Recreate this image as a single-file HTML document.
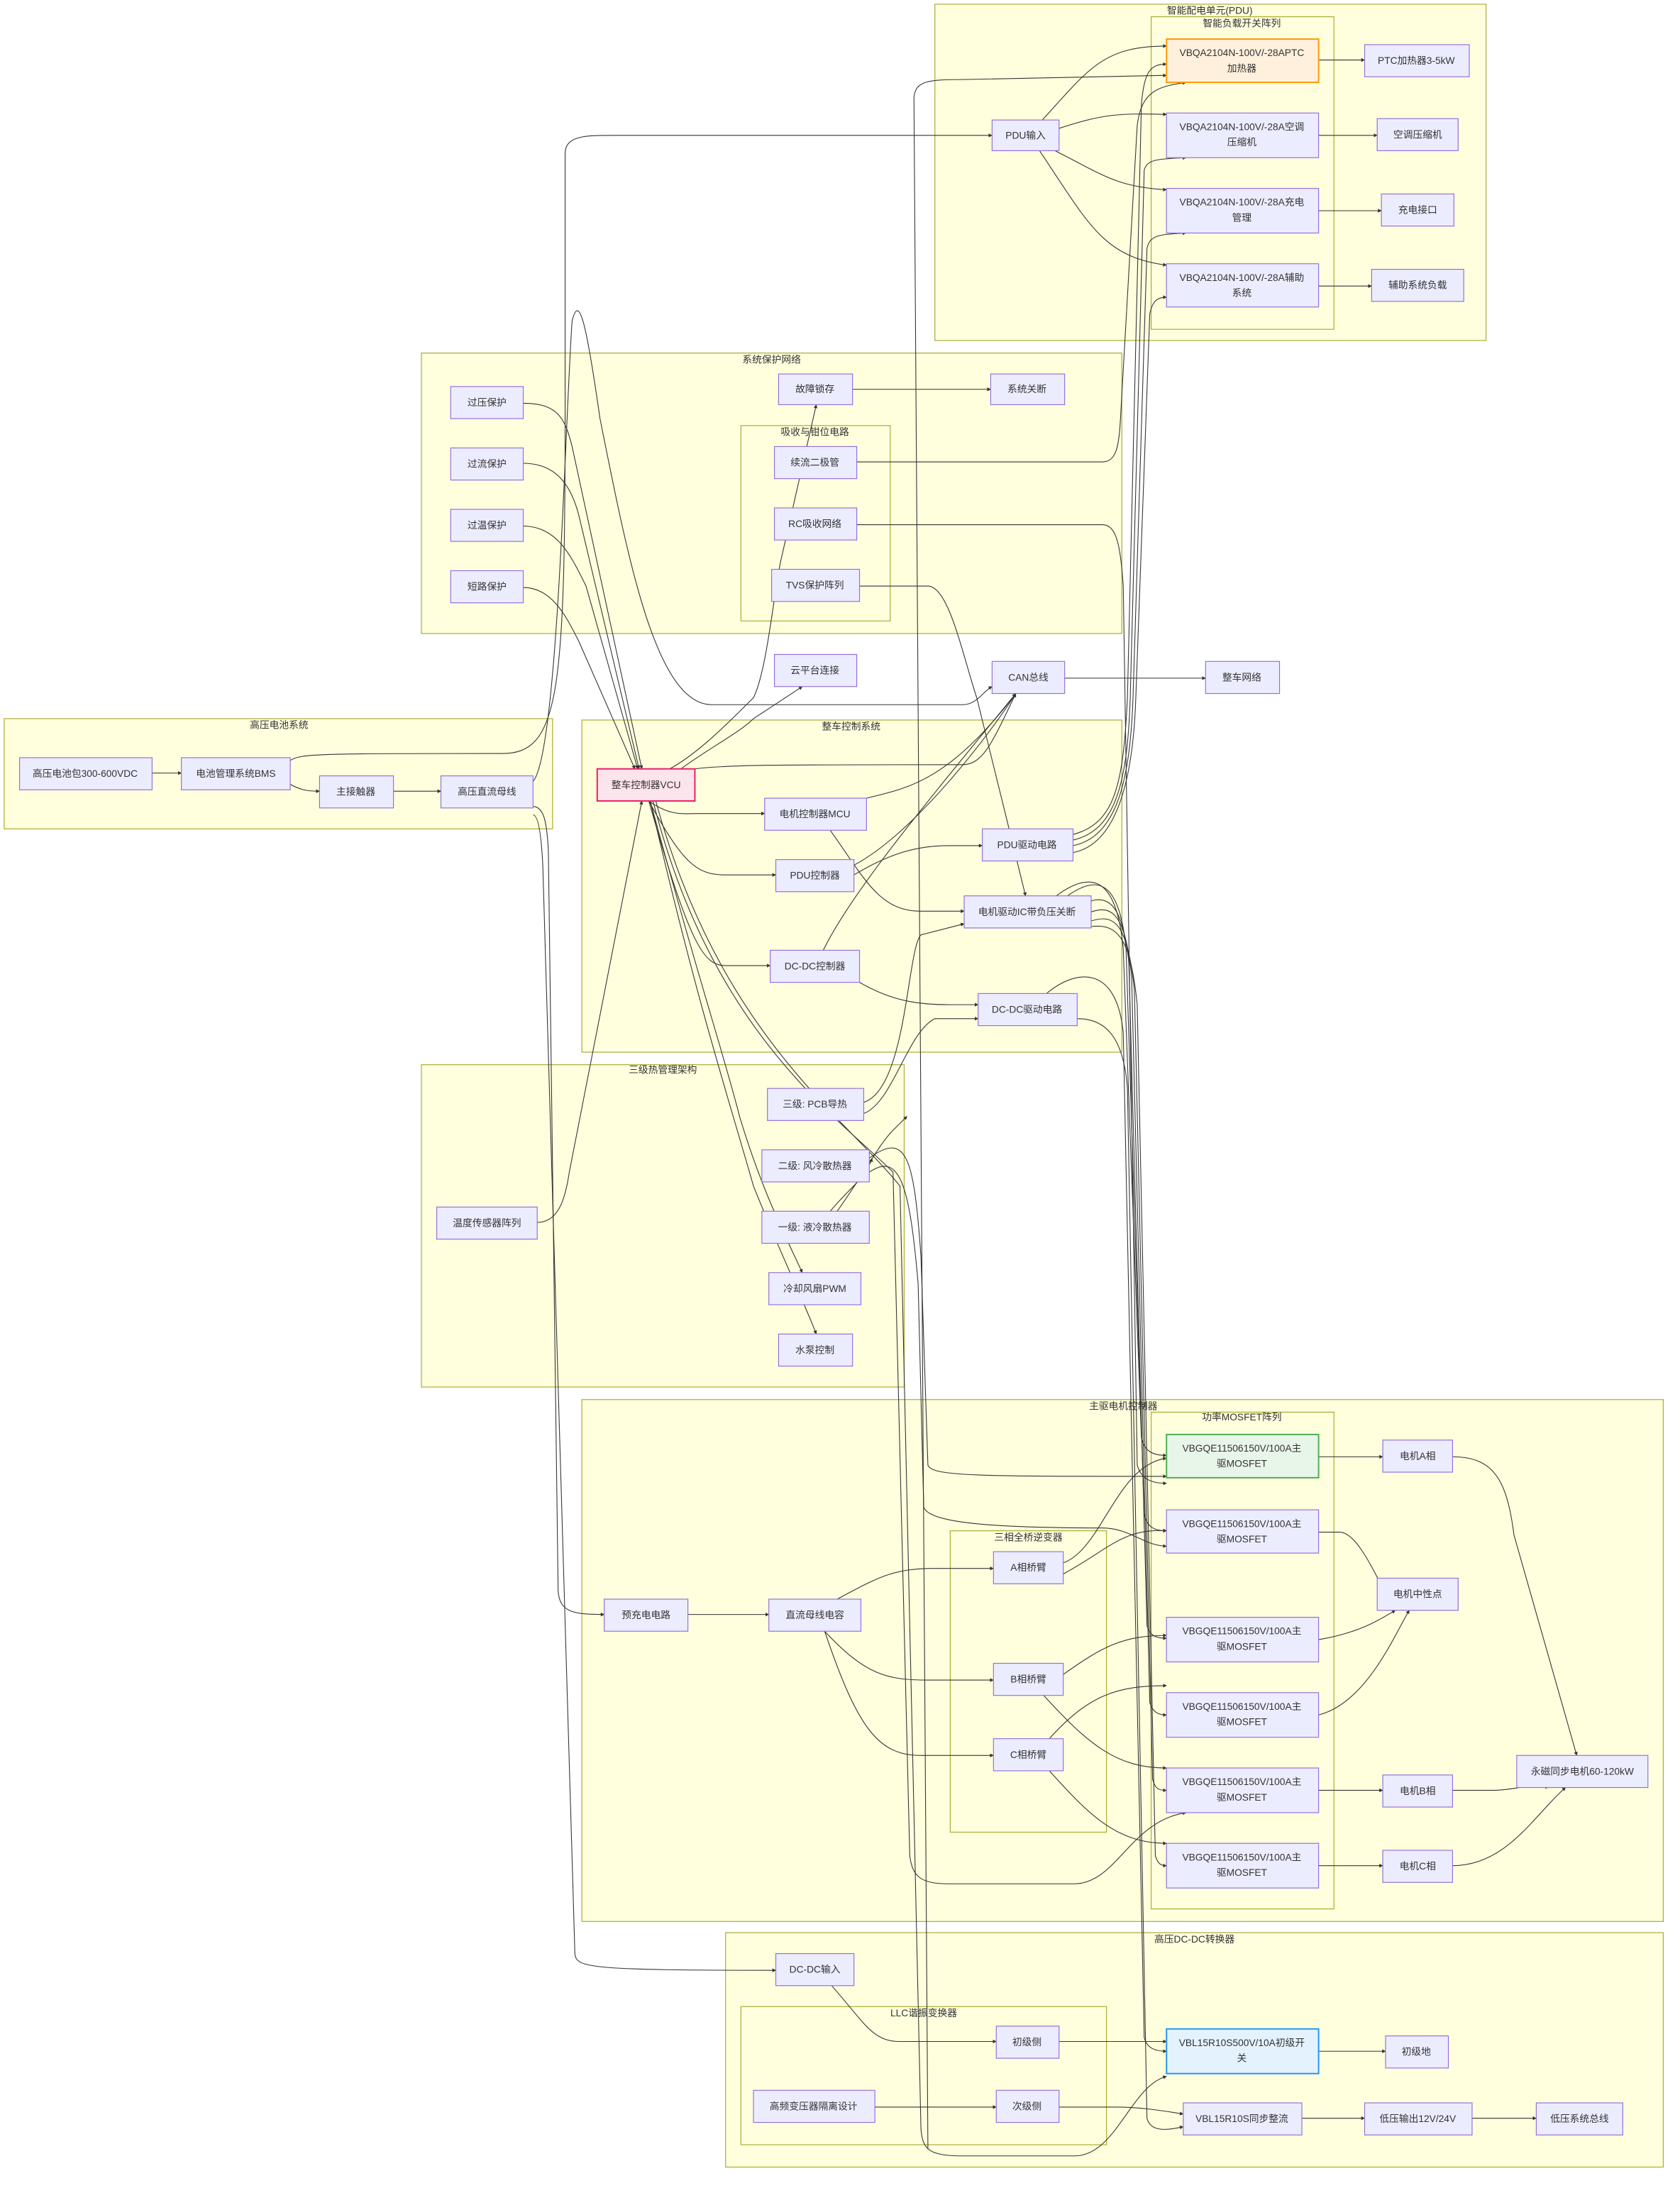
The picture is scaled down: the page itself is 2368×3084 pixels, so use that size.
<!DOCTYPE html>
<html><head><meta charset="utf-8">
<style>
html,body{margin:0;padding:0;background:#fff;}
svg{display:block;}
text{font-family:"Liberation Sans","Noto Sans CJK SC",sans-serif;fill:#333;}
.g{fill:#ffffde;stroke:#aaaa33;stroke-width:0.6;}
.n{fill:#ececff;stroke:#9370db;stroke-width:0.6;}
.e{fill:none;stroke:#333;stroke-width:0.55;marker-end:url(#a);}
.t{font-size:7px;text-anchor:middle;dominant-baseline:central;}
.gt{font-size:7px;text-anchor:middle;}
</style></head><body>
<svg width="2368" height="3084" viewBox="0 0 1204 1568" preserveAspectRatio="none" xmlns="http://www.w3.org/2000/svg">
<defs><marker id="a" viewBox="0 0 10 10" refX="9" refY="5" markerWidth="5" markerHeight="5" orient="auto"><path d="M0 0 L10 5 L0 10 z" fill="#333"/></marker></defs>
<rect width="1204" height="1568" fill="#fff"/>
<!-- groups -->
<rect class="g" x="670" y="3" width="395" height="241"/><text class="gt" x="867" y="10">智能配电单元(PDU)</text>
<rect class="g" x="825" y="12" width="131" height="224"/><text class="gt" x="890" y="19">智能负载开关阵列</text>
<rect class="g" x="302" y="253" width="502" height="201"/><text class="gt" x="553" y="260">系统保护网络</text>
<rect class="g" x="531" y="305" width="107" height="140"/><text class="gt" x="584" y="312">吸收与钳位电路</text>
<rect class="g" x="3" y="515" width="393" height="79"/><text class="gt" x="200" y="522">高压电池系统</text>
<rect class="g" x="417" y="516" width="387" height="238"/><text class="gt" x="610" y="523">整车控制系统</text>
<rect class="g" x="302" y="763" width="346" height="231"/><text class="gt" x="475" y="769">三级热管理架构</text>
<rect class="g" x="417" y="1003" width="775" height="374"/><text class="gt" x="805" y="1010">主驱电机控制器</text>
<rect class="g" x="825" y="1012" width="131" height="356"/><text class="gt" x="890" y="1018">功率MOSFET阵列</text>
<rect class="g" x="681" y="1097" width="112" height="216"/><text class="gt" x="737" y="1104">三相全桥逆变器</text>
<rect class="g" x="520" y="1385" width="672" height="168"/><text class="gt" x="856" y="1392">高压DC-DC转换器</text>
<rect class="g" x="531" y="1438" width="262" height="99"/><text class="gt" x="662" y="1445">LLC谐振变换器</text>

<!-- edges -->
<g>
<path class="e" d="M747 86 C780 50,790 33,836 33"/>
<path class="e" d="M759 92 C790 82,800 81,836 82"/>
<path class="e" d="M756 108 C790 125,800 134,836 136"/>
<path class="e" d="M745 108 C780 160,790 184,836 190"/>
<path class="e" d="M945 43 L978 43"/><path class="e" d="M945 97 L987 97"/><path class="e" d="M945 151 L990 151"/><path class="e" d="M945 205 L983 205"/>
<path class="e" d="M665 1540 L655 70 C656 58,665 57,690 57 L836 54"/>
<path class="e" d="M375 289 C400 289,405 300,410 320 L460 551"/>
<path class="e" d="M375 332 C400 332,410 350,415 370 L458 551"/>
<path class="e" d="M375 377 C400 377,410 400,420 420 L457 551"/>
<path class="e" d="M375 421 C395 421,405 440,415 460 L455 551"/>
<path class="e" d="M382 560 C400 540,405 300,410 230 C415 210,420 230,430 300 C450 400,470 505,510 505 L690 505 C700 505,705 495,711 492"/>
<path class="e" d="M208 545 C215 540,230 540,360 540 C400 540,405 500,405 300 L405 110 C405 97,420 97,440 97 L711 97"/>
<path class="e" d="M611 279 L710 279"/>
<path class="e" d="M480 551 C500 540,520 520,540 500 C550 480,555 420,560 400 L585 290"/>
<path class="e" d="M614 331 L790 331 C800 331,802 320,803 300 L815 90 C818 65,830 62,850 59"/>
<path class="e" d="M614 376 L790 376 C800 376,803 390,805 420 L815 1050 C818 1060,825 1063,836 1063"/>
<path class="e" d="M616 420 L665 420 C680 420,690 470,700 500 L735 642"/>
<path class="e" d="M769 598 C800 590,805 560,808 500 L818 75 C820 50,825 46,836 46"/>
<path class="e" d="M769 602 C800 595,808 560,810 500 L820 122 C822 114,830 114,850 113"/>
<path class="e" d="M769 606 C800 600,810 560,812 500 L822 178 C824 168,832 168,850 167"/>
<path class="e" d="M769 611 C800 605,812 560,814 500 L824 225 C826 215,830 213,836 213"/>
<path class="e" d="M488 551 C510 535,530 525,540 515 L575 492"/>
<path class="e" d="M498 551 C520 548,560 548,690 548 C705 548,712 530,728 497"/>
<path class="e" d="M465 574 C480 585,490 583,500 583 L548 583"/>
<path class="e" d="M465 574 C490 620,500 627,520 627 L556 627"/>
<path class="e" d="M465 574 C495 680,505 692,520 692 L552 692"/>
<path class="e" d="M466 574 C500 700,520 760,530 800 C545 850,560 880,575 912"/>
<path class="e" d="M466 574 C500 720,520 780,540 850 C560 900,575 930,585 956"/>
<path class="e" d="M468 574 C510 740,600 800,640 840 L652 1330 C654 1345,660 1350,680 1350 L770 1350 C800 1350,810 1305,850 1299"/>
<path class="e" d="M470 574 C515 740,605 800,645 850 L660 1525 C661 1540,665 1545,690 1545 L770 1545 C800 1545,810 1495,836 1488"/>
<path class="e" d="M385 876 C400 876,405 860,408 840 L460 574"/>
<path class="e" d="M621 572 C650 565,680 560,728 497"/>
<path class="e" d="M612 620 C650 600,700 540,728 497"/>
<path class="e" d="M590 681 C610 640,660 580,728 497"/>
<path class="e" d="M595 595 C620 630,630 653,660 653 L691 653"/>
<path class="e" d="M612 627 C640 610,660 606,680 606 L704 606"/>
<path class="e" d="M616 704 C640 718,660 720,680 720 L701 720"/>
<path class="e" d="M619 790 C650 780,650 680,660 670 L691 662"/>
<path class="e" d="M619 798 C640 790,650 740,670 730 L701 730"/>
<path class="e" d="M757 642 C780 625,800 625,805 680 L818 1030 C820 1040,826 1043,836 1043"/>
<path class="e" d="M765 642 C785 628,802 628,807 680 L820 1085 C822 1095,828 1097,836 1097"/>
<path class="e" d="M772 650 C790 640,804 640,809 690 L822 1165 C824 1172,828 1174,836 1174"/>
<path class="e" d="M778 655 C795 648,806 650,811 700 L824 1220 C826 1227,830 1229,836 1229"/>
<path class="e" d="M782 660 C798 655,808 660,813 710 L826 1275 C828 1282,830 1283,836 1283"/>
<path class="e" d="M782 664 C800 662,810 670,815 720 L828 1330 C830 1336,832 1337,836 1337"/>
<path class="e" d="M750 712 C770 695,800 690,805 740 L820 1460 C822 1468,828 1470,836 1470"/>
<path class="e" d="M772 730 C790 730,805 740,808 780 L822 1518 C824 1526,832 1528,848 1524"/>
<path class="e" d="M623 830 C650 810,655 830,660 900 L665 1050 C668 1058,700 1058,836 1058"/>
<path class="e" d="M623 840 C645 825,652 850,658 920 L662 1080 C665 1090,700 1095,790 1095 C810 1095,820 1108,836 1108"/>
<path class="e" d="M595 868 C610 850,620 845,625 830"/>
<path class="e" d="M600 868 C620 840,630 820,640 810 L650 800"/>
<path class="e" d="M382 578 C390 578,392 590,393 610 L400 1140 C401 1155,410 1157,433 1157"/>
<path class="e" d="M382 584 C386 584,388 600,389 620 L412 1400 C413 1410,420 1412,556 1412"/>
<path class="e" d="M493 1157 L551 1157"/>
<path class="e" d="M600 1146 C630 1130,640 1124,670 1124 L712 1124"/>
<path class="e" d="M591 1169 C620 1200,635 1204,665 1204 L712 1204"/>
<path class="e" d="M591 1169 C615 1240,630 1258,660 1258 L712 1258"/>
<path class="e" d="M762 1120 C790 1110,800 1050,836 1045"/>
<path class="e" d="M762 1128 C795 1110,805 1095,836 1097"/>
<path class="e" d="M762 1200 C790 1180,805 1172,836 1172"/>
<path class="e" d="M748 1215 C780 1250,800 1267,836 1267"/>
<path class="e" d="M752 1246 C780 1215,800 1208,836 1208"/>
<path class="e" d="M752 1269 C780 1300,800 1321,836 1321"/>
<path class="e" d="M945 1044 L991 1044"/>
<path class="e" d="M945 1098 L960 1098 C975 1098,990 1140,1000 1154"/>
<path class="e" d="M945 1175 C975 1170,990 1160,1000 1154"/>
<path class="e" d="M945 1229 C980 1220,1000 1170,1010 1154"/>
<path class="e" d="M945 1283 L991 1283"/><path class="e" d="M945 1337 L991 1337"/>
<path class="e" d="M1041 1044 C1070 1044,1080 1060,1085 1100 L1130 1258"/>
<path class="e" d="M1041 1283 L1070 1283 C1085 1283,1095 1278,1110 1281"/>
<path class="e" d="M1041 1337 C1080 1337,1100 1300,1122 1281"/>
<path class="e" d="M596 1423 C620 1450,625 1463,645 1463 L714 1463"/>
<path class="e" d="M759 1463 L836 1463"/>
<path class="e" d="M627 1510 L714 1510"/>
<path class="e" d="M759 1510 L800 1510 C815 1510,830 1512,848 1515"/>
<path class="e" d="M945 1470 L993 1470"/>
<path class="e" d="M933 1518 L978 1518"/><path class="e" d="M1055 1518 L1101 1518"/>
<path class="e" d="M109 554 L130 554"/>
<path class="e" d="M208 562 C215 566,220 567,229 567"/>
<path class="e" d="M282 567 L316 567"/>
<path class="e" d="M763 486 L864 486"/>
</g>

<!-- nodes -->
<g>
<rect x="836" y="28" width="109" height="31" fill="#fff0dd" stroke="#ff9900" stroke-width="1"/><text class="t" x="890" y="38">VBQA2104N-100V/-28APTC</text><text class="t" x="890" y="49">加热器</text>
<rect class="n" x="836" y="81" width="109" height="32"/><text class="t" x="890" y="91">VBQA2104N-100V/-28A空调</text><text class="t" x="890" y="102">压缩机</text>
<rect class="n" x="836" y="135" width="109" height="32"/><text class="t" x="890" y="145">VBQA2104N-100V/-28A充电</text><text class="t" x="890" y="156">管理</text>
<rect class="n" x="836" y="189" width="109" height="31"/><text class="t" x="890" y="199">VBQA2104N-100V/-28A辅助</text><text class="t" x="890" y="210">系统</text>
<rect class="n" x="978" y="32" width="75" height="23"/><text class="t" x="1015" y="43.5">PTC加热器3-5kW</text>
<rect class="n" x="987" y="85" width="58" height="23"/><text class="t" x="1016" y="96.5">空调压缩机</text>
<rect class="n" x="990" y="139" width="52" height="23"/><text class="t" x="1016" y="150.5">充电接口</text>
<rect class="n" x="983" y="193" width="66" height="23"/><text class="t" x="1016" y="204.5">辅助系统负载</text>
<rect class="n" x="711" y="86" width="48" height="22"/><text class="t" x="735" y="97">PDU输入</text>

<rect class="n" x="323" y="277" width="52" height="23"/><text class="t" x="349" y="288.5">过压保护</text>
<rect class="n" x="323" y="321" width="52" height="23"/><text class="t" x="349" y="332.5">过流保护</text>
<rect class="n" x="323" y="365" width="52" height="23"/><text class="t" x="349" y="376.5">过温保护</text>
<rect class="n" x="323" y="409" width="52" height="23"/><text class="t" x="349" y="420.5">短路保护</text>
<rect class="n" x="558" y="268" width="53" height="22"/><text class="t" x="584" y="279">故障锁存</text>
<rect class="n" x="710" y="268" width="53" height="22"/><text class="t" x="736" y="279">系统关断</text>
<rect class="n" x="555" y="320" width="59" height="23"/><text class="t" x="584" y="331.5">续流二极管</text>
<rect class="n" x="555" y="364" width="59" height="23"/><text class="t" x="584" y="375.5">RC吸收网络</text>
<rect class="n" x="553" y="408" width="63" height="23"/><text class="t" x="584" y="419.5">TVS保护阵列</text>
<rect class="n" x="555" y="469" width="59" height="23"/><text class="t" x="584" y="480.5">云平台连接</text>
<rect class="n" x="711" y="474" width="52" height="23"/><text class="t" x="737" y="485.5">CAN总线</text>
<rect class="n" x="864" y="474" width="53" height="23"/><text class="t" x="890" y="485.5">整车网络</text>

<rect class="n" x="14" y="543" width="95" height="23"/><text class="t" x="61" y="554.5">高压电池包300-600VDC</text>
<rect class="n" x="130" y="543" width="78" height="23"/><text class="t" x="169" y="554.5">电池管理系统BMS</text>
<rect class="n" x="229" y="556" width="53" height="23"/><text class="t" x="255" y="567.5">主接触器</text>
<rect class="n" x="316" y="556" width="66" height="23"/><text class="t" x="349" y="567.5">高压直流母线</text>

<rect x="428" y="551" width="70" height="23" fill="#fce4ec" stroke="#e91e63" stroke-width="1"/><text class="t" x="463" y="562.5">整车控制器VCU</text>
<rect class="n" x="548" y="572" width="73" height="23"/><text class="t" x="584" y="583.5">电机控制器MCU</text>
<rect class="n" x="556" y="616" width="56" height="23"/><text class="t" x="584" y="627.5">PDU控制器</text>
<rect class="n" x="552" y="681" width="64" height="23"/><text class="t" x="584" y="692.5">DC-DC控制器</text>
<rect class="n" x="704" y="594" width="65" height="23"/><text class="t" x="736" y="605.5">PDU驱动电路</text>
<rect class="n" x="691" y="642" width="91" height="23"/><text class="t" x="736" y="653.5">电机驱动IC带负压关断</text>
<rect class="n" x="701" y="712" width="71" height="23"/><text class="t" x="736" y="723.5">DC-DC驱动电路</text>

<rect class="n" x="550" y="780" width="69" height="23"/><text class="t" x="584" y="791.5">三级: PCB导热</text>
<rect class="n" x="546" y="824" width="77" height="23"/><text class="t" x="584" y="835.5">二级: 风冷散热器</text>
<rect class="n" x="546" y="868" width="77" height="23"/><text class="t" x="584" y="879.5">一级: 液冷散热器</text>
<rect class="n" x="551" y="912" width="66" height="23"/><text class="t" x="584" y="923.5">冷却风扇PWM</text>
<rect class="n" x="558" y="956" width="53" height="23"/><text class="t" x="584" y="967.5">水泵控制</text>
<rect class="n" x="313" y="865" width="72" height="23"/><text class="t" x="349" y="876.5">温度传感器阵列</text>

<rect x="836" y="1028" width="109" height="31" fill="#e8f5e9" stroke="#4caf50" stroke-width="1"/><text class="t" x="890" y="1038">VBGQE11506150V/100A主</text><text class="t" x="890" y="1049">驱MOSFET</text>
<rect class="n" x="836" y="1082" width="109" height="31"/><text class="t" x="890" y="1092">VBGQE11506150V/100A主</text><text class="t" x="890" y="1103">驱MOSFET</text>
<rect class="n" x="836" y="1159" width="109" height="32"/><text class="t" x="890" y="1169">VBGQE11506150V/100A主</text><text class="t" x="890" y="1180">驱MOSFET</text>
<rect class="n" x="836" y="1213" width="109" height="32"/><text class="t" x="890" y="1223">VBGQE11506150V/100A主</text><text class="t" x="890" y="1234">驱MOSFET</text>
<rect class="n" x="836" y="1267" width="109" height="32"/><text class="t" x="890" y="1277">VBGQE11506150V/100A主</text><text class="t" x="890" y="1288">驱MOSFET</text>
<rect class="n" x="836" y="1321" width="109" height="32"/><text class="t" x="890" y="1331">VBGQE11506150V/100A主</text><text class="t" x="890" y="1342">驱MOSFET</text>
<rect class="n" x="991" y="1032" width="50" height="23"/><text class="t" x="1016" y="1043.5">电机A相</text>
<rect class="n" x="987" y="1131" width="58" height="23"/><text class="t" x="1016" y="1142.5">电机中性点</text>
<rect class="n" x="991" y="1272" width="50" height="23"/><text class="t" x="1016" y="1283.5">电机B相</text>
<rect class="n" x="991" y="1326" width="50" height="23"/><text class="t" x="1016" y="1337.5">电机C相</text>
<rect class="n" x="1087" y="1258" width="94" height="23"/><text class="t" x="1134" y="1269.5">永磁同步电机60-120kW</text>
<rect class="n" x="712" y="1112" width="50" height="23"/><text class="t" x="737" y="1123.5">A相桥臂</text>
<rect class="n" x="712" y="1192" width="50" height="23"/><text class="t" x="737" y="1203.5">B相桥臂</text>
<rect class="n" x="712" y="1246" width="50" height="23"/><text class="t" x="737" y="1257.5">C相桥臂</text>
<rect class="n" x="433" y="1146" width="60" height="23"/><text class="t" x="463" y="1157.5">预充电电路</text>
<rect class="n" x="551" y="1146" width="66" height="23"/><text class="t" x="584" y="1157.5">直流母线电容</text>

<rect class="n" x="556" y="1400" width="56" height="23"/><text class="t" x="584" y="1411.5">DC-DC输入</text>
<rect class="n" x="714" y="1452" width="45" height="23"/><text class="t" x="736" y="1463.5">初级侧</text>
<rect class="n" x="714" y="1498" width="45" height="23"/><text class="t" x="736" y="1509.5">次级侧</text>
<rect class="n" x="540" y="1498" width="87" height="23"/><text class="t" x="583" y="1509.5">高频变压器隔离设计</text>
<rect x="836" y="1454" width="109" height="32" fill="#e3f2fd" stroke="#2196f3" stroke-width="1"/><text class="t" x="890" y="1464">VBL15R10S500V/10A初级开</text><text class="t" x="890" y="1475">关</text>
<rect class="n" x="993" y="1459" width="45" height="23"/><text class="t" x="1015" y="1470.5">初级地</text>
<rect class="n" x="848" y="1507" width="85" height="23"/><text class="t" x="890" y="1518.5">VBL15R10S同步整流</text>
<rect class="n" x="978" y="1507" width="77" height="23"/><text class="t" x="1016" y="1518.5">低压输出12V/24V</text>
<rect class="n" x="1101" y="1507" width="62" height="23"/><text class="t" x="1132" y="1518.5">低压系统总线</text>
</g>
</svg>
</body></html>
